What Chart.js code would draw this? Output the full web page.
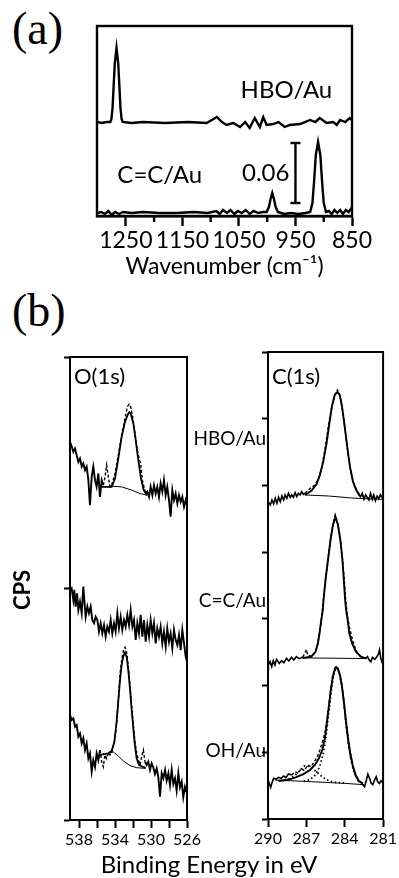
<!DOCTYPE html>
<html lang="en">
<head>
<meta charset="UTF-8">
<title>IR and XPS spectra</title>
<style>
  html, body { margin: 0; padding: 0; background: #fff; }
  body { position: relative; width: 399px; height: 878px; overflow: hidden; color: #000; }
  canvas { position: absolute; }
  .tag { position: absolute; font-family: "Liberation Serif", serif; font-size: 46px; line-height: 46px; }
  #cps { position: absolute; left: -8px; top: 578px; width: 60px; text-align: center; font: bold 22px Lato, sans-serif; line-height: 24px; transform: rotate(-90deg); }
  #beTitle { position: absolute; left: 0; top: 852px; width: 418px; text-align: center; font: 24px Lato, sans-serif; line-height: 24px; }
</style>
</head>
<body>
<div class="tag" style="left:12px;top:6px">(a)</div>
<div class="tag" style="left:12px;top:288px">(b)</div>
<canvas id="irChart" width="399" height="290" style="left:0;top:0"></canvas>
<canvas id="o1sChart" width="205" height="548" style="left:0;top:330px"></canvas>
<canvas id="c1sChart" width="214" height="548" style="left:185px;top:330px"></canvas>
<div id="cps">CPS</div>
<div id="beTitle">Binding Energy in eV</div>

<script src="https://cdn.jsdelivr.net/npm/chart.js"></script>
<script>
  // ---------- (a) IR spectra: [wavenumber cm-1, absorbance] ----------
  const irMajorTicks = [1250, 1150, 1050, 950, 850];
  const irMinorTicks = [1200, 1100, 1000, 900];

  const irHbo = [
    [1301, 0.091], [1292, 0.090], [1284, 0.091], [1277.5, 0.091], [1275.5, 0.094], [1273.5, 0.105],
    [1271.5, 0.128], [1269.5, 0.150], [1266.5, 0.165], [1263.5, 0.150], [1261.5, 0.128], [1259.5, 0.105],
    [1257.5, 0.094], [1255.5, 0.091], [1240, 0.090], [1220, 0.091], [1180, 0.090], [1140, 0.091],
    [1107, 0.090], [1089, 0.096], [1080, 0.091], [1072, 0.088], [1060, 0.090], [1048, 0.086],
    [1039, 0.091], [1031, 0.085], [1022, 0.095], [1013, 0.086], [1007, 0.096], [1001, 0.088],
    [989, 0.089], [980, 0.091], [969, 0.086], [960, 0.088], [942, 0.089], [924, 0.093], [915, 0.091],
    [907, 0.095], [895, 0.090], [883, 0.091], [877, 0.088], [871, 0.093], [862, 0.091], [854, 0.095], [850, 0.093]
  ];

  const irCc = [
    [1301, 0.000], [1293, 0.001], [1287, -0.001], [1281, 0.002], [1275, -0.002], [1269, 0.001],
    [1262, -0.001], [1255, 0.001], [1240, 0.000], [1220, 0.001], [1190, 0.000], [1160, 0.000],
    [1130, 0.001], [1105, 0.000], [1090, 0.002], [1084, -0.001], [1078, 0.003], [1071, 0.000],
    [1065, 0.003], [1058, -0.001], [1052, 0.002], [1045, 0.000], [1038, 0.003], [1031, -0.001],
    [1024, 0.002], [1016, 0.000], [1008, 0.001], [1001, 0.001], [997, 0.006], [994, 0.014],
    [991, 0.020], [988, 0.014], [985, 0.006], [981, 0.001], [970, -0.001], [958, 0.000],
    [945, -0.001], [932, 0.000], [924, 0.001], [920, 0.010], [917, 0.032], [914, 0.058],
    [910, 0.071], [906, 0.058], [903, 0.032], [900, 0.010], [896, 0.001], [891, 0.002],
    [886, -0.001], [881, 0.003], [876, 0.000], [871, 0.003], [866, -0.001], [861, 0.003],
    [856, 0.001], [852, 0.004], [850, 0.002]
  ];

  const irBarAt = 950;
  const irBarBase = 0.010;
  const irBarLength = 0.06;

  // ---------- (b) XPS O(1s): [binding energy eV, counts] ----------
  const o1sTicks = [538, 536, 534, 532, 530, 528, 526];
  const o1sLabels = [538, 534, 530, 526];

  const o1sHbo = [
    [539.0, 16.34], [538.8, 16.12], [538.63, 15.90], [538.44, 16.05], [538.26, 15.76], [538.07, 15.47],
    [537.89, 15.62], [537.7, 15.26], [537.52, 15.40], [537.33, 15.11], [537.15, 15.26], [536.96, 14.68],
    [536.78, 13.60], [536.59, 14.82], [536.41, 15.26], [536.22, 14.68], [536.04, 14.39], [535.85, 14.97],
    [535.67, 13.96], [535.48, 14.68], [535.3, 14.46], [535.11, 14.82], [534.93, 15.33], [534.74, 14.82],
    [534.56, 14.39], [534.37, 14.46], [534.0, 14.97], [533.63, 15.76], [533.26, 16.62], [532.89, 17.34],
    [532.63, 17.85], [532.44, 17.96], [532.26, 17.85], [532.04, 17.42], [531.78, 16.70], [531.52, 15.98],
    [531.33, 15.62], [531.15, 15.40], [530.96, 14.68], [530.78, 14.39], [530.59, 14.10], [530.41, 14.18],
    [530.22, 13.96], [530.04, 14.39], [529.85, 14.03], [529.67, 14.46], [529.48, 14.10], [529.3, 14.39],
    [529.11, 13.96], [528.93, 14.54], [528.74, 14.18], [528.56, 14.68], [528.37, 14.03], [528.19, 14.39],
    [528.0, 13.82], [527.82, 13.10], [527.63, 14.25], [527.45, 13.82], [527.26, 14.10], [527.07, 13.67],
    [526.89, 14.03], [526.7, 13.74], [526.52, 13.96], [526.33, 13.53], [526.15, 13.82], [526.0, 13.60]
  ];
  const o1sHboFit = [
    [535.48, 14.39], [534.37, 14.39], [534.0, 14.75], [533.63, 15.62], [533.26, 16.55], [532.89, 17.20],
    [532.52, 17.56], [532.4, 17.62], [532.26, 17.56], [531.96, 17.13], [531.70, 16.41], [531.41, 15.54],
    [531.11, 14.75], [530.81, 14.25], [530.44, 14.03]
  ];
  const o1sHboBg = [
    [535.48, 14.39], [534.37, 14.42], [533.26, 14.39], [532.15, 14.25], [531.22, 14.10], [530.44, 14.03]
  ];

  const o1sCc = [
    [539.0, 9.94], [538.82, 10.01], [538.63, 9.50], [538.52, 9.94], [538.37, 9.22], [538.22, 9.79],
    [538.07, 9.07], [537.89, 9.43], [537.7, 8.93], [537.52, 10.08], [537.41, 9.50], [537.26, 8.78],
    [537.07, 9.22], [536.89, 8.93], [536.7, 9.22], [536.52, 8.64], [536.33, 8.50], [536.15, 8.78],
    [535.96, 8.64], [535.78, 8.14], [535.59, 8.50], [535.41, 8.06], [535.22, 8.42], [535.04, 7.92],
    [534.85, 8.35], [534.67, 8.14], [534.48, 8.64], [534.3, 8.06], [534.11, 8.50], [533.93, 8.14],
    [533.74, 8.93], [533.56, 8.28], [533.37, 8.78], [533.19, 8.21], [533.0, 8.64], [532.82, 8.35],
    [532.63, 8.86], [532.44, 8.42], [532.26, 9.07], [532.07, 8.35], [531.89, 8.64], [531.7, 7.78],
    [531.52, 8.50], [531.33, 8.06], [531.15, 8.86], [530.96, 7.92], [530.78, 8.64], [530.59, 7.70],
    [530.41, 8.42], [530.22, 7.92], [530.04, 8.64], [529.85, 8.06], [529.67, 8.50], [529.48, 7.63],
    [529.3, 8.28], [529.11, 7.92], [528.93, 8.35], [528.74, 7.63], [528.56, 8.14], [528.37, 7.49],
    [528.19, 8.28], [528.0, 7.70], [527.82, 8.06], [527.63, 7.42], [527.45, 8.21], [527.26, 7.78],
    [527.07, 7.56], [526.89, 7.99], [526.7, 7.34], [526.52, 8.21], [526.33, 7.63], [526.15, 7.06], [526.0, 6.84]
  ];

  const o1sOh = [
    [539.0, 4.54], [538.82, 4.32], [538.63, 4.39], [538.44, 4.03], [538.26, 4.10], [538.07, 3.60],
    [537.89, 3.74], [537.7, 3.31], [537.52, 3.53], [537.33, 3.02], [537.15, 3.31], [536.96, 2.66],
    [536.78, 2.88], [536.59, 2.09], [536.41, 2.59], [536.22, 2.30], [536.04, 2.88], [535.85, 2.59],
    [535.67, 3.02], [535.48, 2.52], [535.3, 2.30], [535.11, 2.81], [534.93, 2.66], [534.74, 2.91],
    [534.56, 2.81], [534.37, 2.91], [534.19, 3.17], [534.0, 3.53], [533.82, 4.18], [533.63, 5.18],
    [533.44, 6.33], [533.26, 6.91], [533.07, 7.31], [532.89, 7.46], [532.7, 7.23], [532.52, 6.65],
    [532.33, 5.83], [532.15, 4.92], [531.96, 4.10], [531.78, 3.38], [531.59, 2.88], [531.41, 2.62],
    [531.22, 2.38], [531.04, 2.73], [530.85, 3.02], [530.67, 2.52], [530.48, 2.38], [530.3, 2.52],
    [530.11, 2.16], [529.93, 2.45], [529.74, 2.27], [529.56, 1.99], [529.37, 2.23], [529.19, 1.87],
    [529.0, 1.01], [528.81, 2.02], [528.63, 1.80], [528.44, 2.16], [528.26, 1.70], [528.07, 2.02],
    [527.89, 1.51], [527.7, 2.16], [527.52, 1.55], [527.33, 1.80], [527.15, 1.27], [526.96, 2.02],
    [526.78, 1.41], [526.59, 1.66], [526.41, 0.98], [526.22, 1.44], [526.0, 1.15]
  ];
  const o1sOhFit = [
    [535.67, 2.81], [534.74, 2.88], [534.37, 2.99], [534.07, 3.38], [533.82, 4.25], [533.63, 5.15],
    [533.44, 6.05], [533.26, 6.70], [533.07, 7.08], [532.89, 7.23], [532.7, 7.03], [532.52, 6.45],
    [532.33, 5.64], [532.15, 4.78], [531.96, 3.92], [531.78, 3.20], [531.59, 2.66], [531.33, 2.38],
    [530.96, 2.30], [530.59, 2.26]
  ];
  const o1sOhBg = [
    [535.67, 2.81], [534.74, 2.88], [534.19, 2.94], [533.63, 2.76], [533.07, 2.55], [532.33, 2.35],
    [531.59, 2.26], [530.59, 2.23]
  ];

  // ---------- (b) XPS C(1s): [binding energy eV, counts] ----------
  const c1sTicks = [290, 287, 284, 281];
  const c1sSamples = ['HBO/Au', 'C=C/Au', 'OH/Au'];

  const c1sHbo = [
    [290.0, 47.57], [289.82, 47.07], [289.69, 47.82], [289.56, 47.22], [289.43, 48.07], [289.3, 47.32],
    [289.17, 48.22], [289.04, 47.57], [288.91, 48.42], [288.78, 47.82], [288.66, 48.57], [288.53, 48.07],
    [288.4, 48.82], [288.27, 48.22], [288.14, 48.57], [288.01, 48.22], [287.88, 48.92], [287.75, 48.32],
    [287.62, 48.82], [287.49, 48.57], [287.36, 49.07], [287.23, 48.67], [287.1, 48.82], [286.85, 49.32],
    [286.59, 49.72], [286.33, 50.07], [286.07, 50.92], [285.81, 52.57], [285.55, 55.32], [285.29, 58.81],
    [285.04, 61.56], [284.78, 63.56], [284.57, 64.31], [284.39, 63.56], [284.21, 61.81], [284.0, 58.81],
    [283.79, 55.57], [283.59, 52.72], [283.35, 50.57], [283.1, 49.42], [282.92, 48.57], [282.76, 48.32],
    [282.63, 48.82], [282.5, 47.92], [282.37, 48.57], [282.24, 48.22], [282.11, 47.82], [281.98, 48.82],
    [281.85, 47.92], [281.73, 48.57], [281.6, 47.72], [281.47, 48.42], [281.34, 48.02], [281.21, 48.62],
    [281.08, 48.22], [281.0, 48.32]
  ];
  const c1sHboFit = [
    [287.1, 48.57], [286.59, 49.22], [286.2, 50.22], [285.94, 51.57], [285.68, 53.57], [285.42, 56.31],
    [285.16, 59.81], [284.98, 62.06], [284.78, 63.56], [284.57, 64.01], [284.39, 63.56], [284.21, 61.81],
    [284.0, 58.81], [283.79, 55.57], [283.59, 52.82], [283.35, 50.57], [283.1, 49.32], [282.84, 48.57]
  ];
  const c1sHboBg = [[287.1, 48.57], [285.29, 48.42], [283.48, 48.12], [281.93, 47.97], [281.0, 47.92]];

  const c1sCc = [
    [290.0, 23.3], [289.97, 23.08], [289.84, 23.58], [289.71, 22.84], [289.59, 23.73], [289.46, 23.08],
    [289.33, 23.93], [289.12, 23.33], [288.94, 23.73], [288.76, 23.43], [288.55, 24.08], [288.37, 23.68],
    [288.16, 24.23], [287.98, 23.83], [287.78, 24.33], [287.57, 24.03], [287.39, 24.18], [287.28, 24.3],
    [287.1, 24.9], [287.0, 25.4], [286.9, 24.6], [286.7, 24.4], [286.45, 24.6], [286.28, 25.1],
    [286.1, 26.3], [285.97, 27.9], [285.83, 29.9], [285.66, 32.9], [285.5, 35.9], [285.31, 38.9],
    [285.11, 41.9], [284.92, 44.2], [284.75, 45.6], [284.53, 44.2], [284.34, 42.0], [284.18, 39.2],
    [284.05, 36.2], [283.93, 33.0], [283.8, 30.6], [283.64, 28.8], [283.45, 27.3], [283.25, 26.0],
    [283.05, 25.0], [282.85, 24.5], [282.65, 24.2], [282.35, 24.08], [282.22, 24.33], [282.09, 23.83],
    [281.96, 23.58], [281.83, 24.23], [281.65, 23.93], [281.49, 24.33], [281.36, 24.73], [281.28, 25.33],
    [281.18, 24.08], [281.05, 23.33], [281.0, 23.58]
  ];
  const c1sCcFit = [
    [287.28, 24.13], [286.61, 24.33], [286.28, 25.08], [286.1, 26.34], [285.97, 27.84], [285.83, 29.83],
    [285.71, 31.33], [285.66, 32.83], [285.5, 35.83], [285.31, 38.82], [285.11, 41.82], [284.92, 44.07],
    [284.72, 45.27], [284.53, 44.07], [284.34, 41.82], [284.18, 38.82], [284.07, 35.83], [283.97, 32.83],
    [283.89, 31.33], [283.77, 29.83], [283.64, 27.84], [283.43, 26.34], [283.12, 25.08], [282.73, 24.33],
    [282.34, 24.09]
  ];
  const c1sCcBg = [[287.3, 24.15], [282.4, 24.05]];

  const c1sOh = [
    [290.0, 5.94], [289.9, 5.34], [289.79, 4.74], [289.69, 5.44], [289.56, 6.09], [289.38, 5.94],
    [289.17, 6.24], [288.97, 6.09], [288.78, 6.44], [288.6, 6.19], [288.4, 6.74], [288.14, 6.59],
    [287.88, 7.09], [287.62, 6.84], [287.41, 7.59], [287.16, 7.24], [286.9, 8.09], [286.64, 7.84],
    [286.38, 8.59], [286.12, 9.44], [285.94, 10.34], [285.76, 11.44], [285.55, 12.84], [285.4, 14.74],
    [285.24, 17.18], [285.09, 19.58], [284.93, 21.58], [284.78, 22.63], [284.65, 22.93], [284.52, 22.58],
    [284.36, 21.58], [284.21, 19.93], [284.05, 17.08], [283.9, 14.24], [283.74, 11.59], [283.59, 9.59],
    [283.38, 7.74], [283.15, 6.44], [282.97, 5.74], [282.76, 5.34], [282.58, 5.09], [282.45, 4.84],
    [282.32, 5.74], [282.19, 6.74], [282.06, 6.09], [281.93, 5.34], [281.8, 5.14], [281.67, 5.84],
    [281.54, 6.34], [281.42, 5.59], [281.29, 5.34], [281.16, 5.74], [281.0, 5.44]
  ];
  const c1sOhFit = [
    [289.17, 5.69], [288.53, 5.84], [287.88, 6.19], [287.23, 6.74], [286.72, 7.34], [286.33, 8.09],
    [286.02, 9.09], [285.76, 10.34], [285.55, 12.09], [285.4, 14.34], [285.24, 16.83], [285.09, 19.33],
    [284.93, 21.33], [284.78, 22.43], [284.65, 22.73], [284.52, 22.43], [284.36, 21.43], [284.21, 19.83],
    [284.05, 17.33], [283.9, 14.59], [283.74, 12.09], [283.59, 10.09], [283.38, 8.09], [283.15, 6.59],
    [282.89, 5.69], [282.58, 5.34]
  ];
  const c1sOhMain = [
    [287.2, 5.65], [286.7, 5.9], [286.3, 6.6], [285.95, 7.9], [285.7, 9.6], [285.5, 11.8], [285.35, 14.3],
    [285.2, 16.8], [285.05, 19.3], [284.9, 21.3], [284.75, 22.4], [284.65, 22.7], [284.52, 22.4],
    [284.36, 21.4], [284.21, 19.8], [284.05, 17.3], [283.9, 14.6], [283.74, 12.1], [283.59, 10.1],
    [283.38, 8.1], [283.15, 6.6], [282.89, 5.7], [282.58, 5.35]
  ];
  const c1sOhShoulder = [
    [289.0, 5.75], [288.4, 5.95], [287.9, 6.5], [287.5, 7.3], [287.15, 7.95], [286.8, 7.9], [286.4, 7.4],
    [286.0, 6.7], [285.6, 6.1], [285.2, 5.7], [284.7, 5.5], [284.0, 5.4]
  ];
  const c1sOhBg = [[289.43, 5.84], [286.59, 5.59], [284.0, 5.34], [282.45, 5.14]];

  // ---------- helpers ----------
  const ink = '#000';

  function pts(arr) {
    return arr.map(([x, y]) => ({ x, y }));
  }

  function line(arr, width, extra) {
    return Object.assign({
      data: pts(arr), borderColor: ink, borderWidth: width, pointRadius: 0,
      showLine: true, fill: false, tension: 0
    }, extra || {});
  }

  // measured counts: solid outside the fitted window, dashed inside it
  function measured(arr, width, lo, hi) {
    const inside = c => Math.min(c.p0.parsed.x, c.p1.parsed.x) >= lo && Math.max(c.p0.parsed.x, c.p1.parsed.x) <= hi;
    return line(arr, width, {
      segment: {
        borderDash: c => inside(c) ? [3, 2] : undefined,
        borderWidth: c => inside(c) ? 1.4 : undefined
      }
    });
  }

  function frame(lineWidth) {
    return {
      id: 'frame',
      afterDatasetsDraw(chart) {
        const { ctx, chartArea: a } = chart;
        ctx.save();
        ctx.strokeStyle = ink;
        ctx.lineWidth = lineWidth;
        ctx.strokeRect(a.left, a.top, a.right - a.left, a.bottom - a.top);
        ctx.restore();
      }
    };
  }

  function sideAxis(max, step, w) {
    return {
      min: 0, max: max,
      ticks: { display: false, stepSize: step },
      grid: { drawOnChartArea: false, tickLength: 6, tickWidth: w, tickColor: ink },
      border: { color: ink, width: w },
      afterFit: s => { s.width = 6; }
    };
  }

  function energyAxis(min, max, ticks, labels, height) {
    return {
      type: 'linear', reverse: true, min: min, max: max,
      afterBuildTicks: s => { s.ticks = ticks.map(v => ({ value: v })); },
      ticks: {
        autoSkip: false, maxRotation: 0, padding: 2, color: ink,
        font: { family: 'Lato', size: 16 },
        callback: v => labels.includes(v) ? String(v) : ''
      },
      grid: { drawOnChartArea: false, tickLength: 8, tickWidth: 2, tickColor: ink },
      border: { color: ink, width: 2 },
      afterFit: s => { s.height = height; }
    };
  }

  const quiet = { legend: { display: false }, tooltip: { enabled: false } };

  // ---------- (a) IR ----------
  new Chart(document.getElementById('irChart'), {
    type: 'scatter',
    data: {
      datasets: [
        line(irHbo, 2.4),
        line(irCc, 2.4),
        line([[irBarAt, irBarBase], [irBarAt, irBarBase + irBarLength]], 2.4, {
          pointRadius: 5, pointStyle: 'line', pointBorderWidth: 2.4, pointBorderColor: ink
        })
      ]
    },
    options: {
      responsive: false, animation: false, devicePixelRatio: 1,
      layout: { padding: { left: 97, top: 26, right: 47, bottom: 0 } },
      plugins: quiet,
      scales: {
        x: {
          type: 'linear', reverse: true, min: 850, max: 1301,
          afterBuildTicks: s => { s.ticks = irMajorTicks.map(v => ({ value: v })); },
          ticks: {
            autoSkip: false, maxRotation: 0, padding: 1, color: ink,
            font: { family: 'Lato', size: 23 }, callback: v => String(v)
          },
          grid: { drawOnChartArea: false, tickLength: 10, tickWidth: 2.4, tickColor: ink },
          border: { color: ink, width: 2.4 },
          title: {
            display: true, text: 'Wavenumber (cm⁻¹)', color: ink,
            font: { family: 'Lato', size: 23 }, padding: { top: 0, bottom: 10 }
          },
          afterFit: s => { s.height = 74; }
        },
        y: { display: false, min: -0.003, max: 0.187 }
      }
    },
    plugins: [frame(2.4), {
      id: 'irText',
      afterDraw(chart) {
        const { ctx, chartArea: a, scales: { x, y } } = chart;
        ctx.save();
        ctx.strokeStyle = ink;
        ctx.lineWidth = 2.4;
        irMinorTicks.forEach(v => {
          const px = x.getPixelForValue(v);
          ctx.beginPath();
          ctx.moveTo(px, a.bottom);
          ctx.lineTo(px, a.bottom + 6);
          ctx.stroke();
        });
        ctx.fillStyle = ink;
        ctx.font = '24px Lato';
        ctx.textBaseline = 'middle';
        ctx.textAlign = 'right';
        ctx.fillText('HBO/Au', x.getPixelForValue(885), y.getPixelForValue(0.123));
        ctx.fillText('C=C/Au', x.getPixelForValue(1115), y.getPixelForValue(0.038));
        ctx.fillText(irBarLength.toFixed(2), x.getPixelForValue(irBarAt) - 6, y.getPixelForValue(irBarBase + irBarLength / 2));
        ctx.restore();
      }
    }]
  });

  // ---------- (b) O(1s) ----------
  new Chart(document.getElementById('o1sChart'), {
    type: 'scatter',
    data: {
      datasets: [
        measured(o1sHbo, 1.9, 530.5, 535.35),
        line(o1sHboFit, 1.8),
        line(o1sHboBg, 1),
        line(o1sCc, 1.9),
        measured(o1sOh, 1.9, 530.6, 535.7),
        line(o1sOhFit, 1.8),
        line(o1sOhBg, 1)
      ]
    },
    options: {
      responsive: false, animation: false, devicePixelRatio: 1,
      layout: { padding: { left: 64, top: 27, right: 18, bottom: 0 } },
      plugins: quiet,
      scales: {
        x: energyAxis(526, 539, o1sTicks, o1sLabels, 58),
        y: sideAxis(20, 10, 2)
      }
    },
    plugins: [frame(2), {
      id: 'o1sText',
      afterDraw(chart) {
        const { ctx, chartArea: a } = chart;
        ctx.save();
        ctx.fillStyle = ink;
        ctx.font = '22px Lato';
        ctx.textBaseline = 'middle';
        ctx.textAlign = 'left';
        ctx.fillText('O(1s)', a.left + 4, a.top + 20);
        ctx.restore();
      }
    }]
  });

  // ---------- (b) C(1s) ----------
  new Chart(document.getElementById('c1sChart'), {
    type: 'scatter',
    data: {
      datasets: [
        measured(c1sHbo, 1.6, 282.9, 287.15),
        line(c1sHboFit, 1.9),
        line(c1sHboBg, 1),
        measured(c1sCc, 1.6, 282.6, 287.3),
        line(c1sCcFit, 1.9),
        line(c1sCcBg, 1),
        measured(c1sOh, 1.6, 282.55, 288.2),
        line(c1sOhFit, 1.9),
        line(c1sOhMain, 1.8, { borderDash: [1.5, 2.5] }),
        line(c1sOhShoulder, 1.8, { borderDash: [1.5, 2.5] }),
        line(c1sOhBg, 1)
      ]
    },
    options: {
      responsive: false, animation: false, devicePixelRatio: 1,
      layout: { padding: { left: 77, top: 22, right: 15, bottom: 0 } },
      plugins: quiet,
      scales: {
        x: energyAxis(281, 290, c1sTicks, c1sTicks, 59),
        y: sideAxis(70, 10, 2)
      }
    },
    plugins: [frame(2), {
      id: 'c1sText',
      afterDraw(chart) {
        const { ctx, chartArea: a, scales: { y } } = chart;
        const levels = [57.0, 32.7, 10.2];
        ctx.save();
        ctx.fillStyle = ink;
        ctx.textBaseline = 'middle';
        ctx.font = '22px Lato';
        ctx.textAlign = 'left';
        ctx.fillText('C(1s)', a.left + 4, a.top + 25);
        ctx.font = '19px Lato';
        ctx.textAlign = 'right';
        c1sSamples.forEach((t, i) => ctx.fillText(t, a.left - 2, y.getPixelForValue(levels[i])));
        ctx.restore();
      }
    }]
  });
</script>
</body>
</html>
